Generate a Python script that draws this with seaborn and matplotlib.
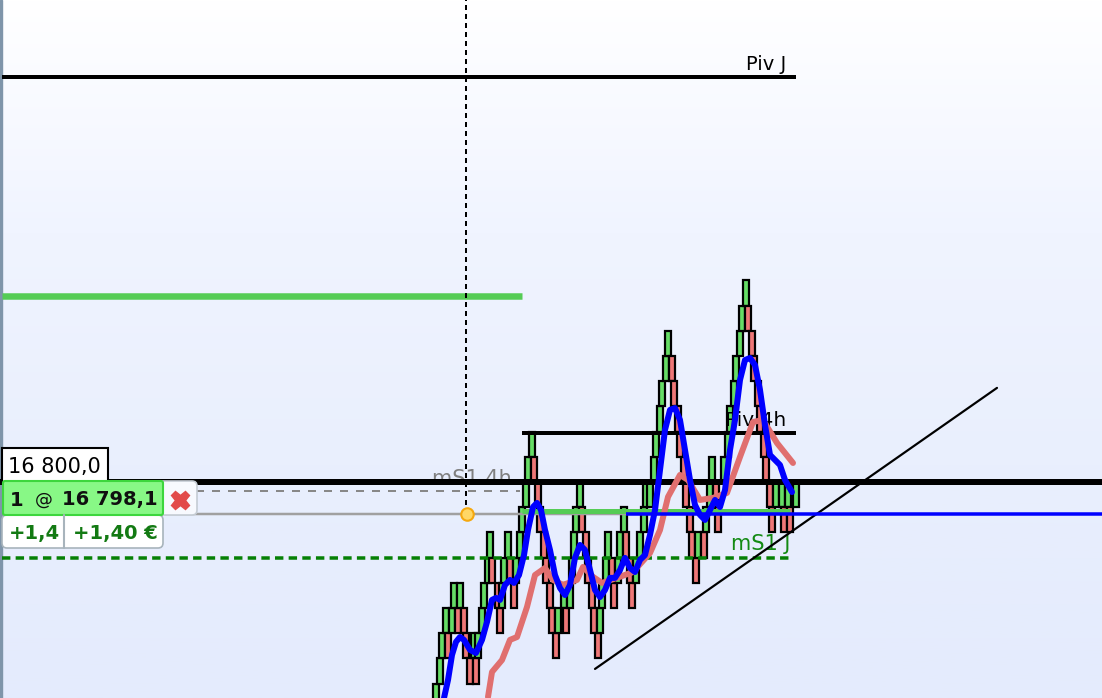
import numpy as np
import pandas as pd
import matplotlib
matplotlib.use("Agg")
import matplotlib.pyplot as plt
import seaborn as sns
from matplotlib.patches import FancyBboxPatch, Rectangle

# -------------------------
# Data: range bars (slot, top price, up/down)
# -------------------------
BOX = 1.5
bar_slot = [218, 220, 221, 223, 224, 226, 227, 229, 230, 232, 233, 235, 237, 238, 239, 241, 242, 244, 245, 246,
            249, 250, 251, 252, 254, 255, 257, 258, 260, 261, 263, 264, 266, 267, 269, 270, 272, 273, 275, 276,
            278, 279, 282, 283, 285, 286, 287, 288, 290, 291, 293, 294, 296, 297, 299, 300, 301, 303, 304, 306,
            307, 309, 310, 312, 313, 315, 316, 318, 320, 322, 323, 325, 327, 328, 330, 331, 333, 334, 336, 337, 339,
            340, 342, 343, 345, 346, 348, 349, 352, 353, 355, 356, 358, 359, 362, 364, 365, 367, 368, 370, 371,
            373, 374, 376, 377, 379, 380, 382, 383, 385, 386, 388, 391, 392, 394, 395, 398]
bar_top = [16788, 16789.5, 16791, 16792.5, 16791, 16792.5, 16794, 16792.5, 16794, 16792.5, 16791, 16789.5, 16791, 16789.5, 16791, 16792.5, 16794, 16795.5, 16797, 16795.5,
           16794, 16792.5, 16794, 16795.5, 16797, 16795.5, 16794, 16795.5, 16797, 16798.5, 16800, 16801.5, 16803, 16801.5, 16800, 16798.5, 16797, 16795.5, 16794, 16792.5,
           16791, 16792.5, 16794, 16792.5, 16794, 16795.5, 16797, 16798.5, 16800, 16798.5, 16797, 16795.5, 16794, 16792.5, 16791, 16792.5, 16794, 16795.5, 16797, 16795.5,
           16794, 16795.5, 16797, 16798.5, 16797, 16795.5, 16794, 16795.5, 16797, 16798.5, 16800, 16800, 16801.5, 16803, 16804.5, 16806, 16807.5, 16809, 16807.5, 16806, 16804.5,
           16803, 16801.5, 16800, 16798.5, 16797, 16795.5, 16797, 16797, 16798.5, 16800, 16801.5, 16800, 16798.5, 16801.5, 16803, 16804.5, 16806, 16807.5, 16809, 16810.5,
           16812, 16810.5, 16809, 16807.5, 16806, 16804.5, 16803, 16801.5, 16800, 16798.5, 16800, 16800, 16798.5, 16800, 16798.5, 16800]
bar_up = [1, 1, 1, 1, 0, 1, 1, 0, 1, 0, 0, 0, 1, 0, 1, 1, 1, 1, 1, 0,
          0, 0, 1, 1, 1, 0, 0, 1, 1, 1, 1, 1, 1, 0, 0, 0, 0, 0, 0, 0,
          0, 1, 1, 0, 1, 1, 1, 1, 1, 0, 0, 0, 0, 0, 0, 1, 1, 1, 1, 0,
          0, 1, 1, 1, 0, 0, 0, 1, 1, 1, 1, 1, 1, 1, 1, 1, 1, 1, 0, 0, 0,
          0, 0, 0, 0, 0, 0, 1, 0, 1, 1, 1, 0, 0, 1, 1, 1, 1, 1, 1, 1,
          1, 0, 0, 0, 0, 0, 0, 0, 0, 0, 1, 1, 0, 1, 0, 1]

# moving averages
fast_slot = [222, 224, 226, 228, 230, 232, 235, 238, 241, 243.5, 246, 248, 250, 252.5, 255, 257, 259.5, 262, 264, 266.5,
             268.5, 270.5, 272.5, 275, 277.5, 280, 282.5, 285, 287.5, 290, 292.5, 295, 297.5, 300, 302.5, 305, 307.5, 310, 312.5, 315,
             317.5, 320, 322.5, 325, 327.5, 330, 332.5, 335, 337.5, 340, 342.5, 345, 347.5, 350, 352.5, 355, 357.5, 360, 362.5, 365,
             367.5, 370, 372.5, 375, 377.5, 380, 382.5, 385, 387.5, 390, 392.5, 396]
fast_ma = [16787.14, 16788.21, 16789.70, 16790.48, 16790.77, 16790.60, 16790.00, 16789.82, 16790.60, 16791.67, 16792.98, 16793.10, 16792.98, 16793.87, 16794.17, 16793.99, 16794.46, 16795.65, 16797.14, 16798.51,
           16798.75, 16798.33, 16797.14, 16795.95, 16794.46, 16793.69, 16793.27, 16793.87, 16795.48, 16796.25, 16795.95, 16794.76, 16793.57, 16793.15, 16793.57, 16794.29, 16794.29, 16794.76, 16795.48, 16794.88,
           16794.64, 16795.36, 16795.65, 16796.85, 16798.33, 16800.71, 16803.10, 16804.29, 16804.40, 16803.69, 16801.90, 16800.12, 16798.63, 16798.04, 16797.74, 16798.33, 16798.93, 16798.51, 16799.52, 16801.90,
           16803.69, 16806.07, 16807.26, 16807.38, 16806.96, 16805.48, 16803.39, 16801.61, 16801.31, 16801.01, 16800.12, 16799.40]
slow_slot = [244, 246, 251, 255, 258.5, 263.5, 267.5, 272.5, 276.5, 281.5, 288.5, 291.5, 296.5, 301, 308.5, 316.5, 325, 330, 334, 340, 344, 350, 356.5, 363.5, 370, 376.5, 381.5, 388.5, 396.5]
slow_ma = [16787.20, 16788.69, 16789.40, 16790.60, 16790.77, 16792.56, 16794.46, 16794.88, 16794.17, 16793.87, 16794.17, 16794.94, 16794.35, 16793.99, 16794.29, 16794.64, 16795.77, 16797.14, 16799.11, 16800.42, 16800.12, 16798.93, 16799.05, 16799.35, 16801.49, 16803.57, 16803.69, 16802.32, 16801.13]

# horizontal levels
piv_j = 16824.1
piv_4h = 16802.9
round_level = 16800.0
ms1_4h = 16798.3
ms1_j = 16795.5
green_high = 16811.07
entry_price = 16798.1
stop_price = 16799.46

trend_slot = [297.5, 498.5]
trend_price = [16788.87, 16805.6]

# -------------------------
# Figure
# -------------------------
sns.set_theme(style="white")
plt.rcParams["font.family"] = ["DejaVu Sans"]

fig = plt.figure(figsize=(11.02, 6.98), dpi=100)
ax = fig.add_axes([0, 0, 1, 1])
ax.set_xlim(0, 551)
ax.set_ylim(16787.14, 16828.69)
ax.axis("off")

# white to pale blue background
grad = np.linspace(0, 1, 256).reshape(-1, 1)
cmap = matplotlib.colors.LinearSegmentedColormap.from_list("bg", ["#ffffff", "#f0f4ff", "#e9effd", "#e4ebfd"])
ax.imshow(grad, extent=[0, 551, 16787.14, 16828.69], aspect="auto", cmap=cmap, zorder=0)
ax.add_patch(Rectangle((0, 0), 0.002, 1, transform=ax.transAxes, color="#7f95aa", zorder=1))

bars = pd.DataFrame({"slot": bar_slot, "top": bar_top, "up": bar_up})
for i, row in bars.iterrows():
    ax.bar(row["slot"], BOX, bottom=row["top"] - BOX, width=2.8,
           color="#66dd66" if row["up"] else "#ee7777",
           edgecolor="black", linewidth=1.6, zorder=2 + i * 0.001)

# labels sit over the bars, under the averages
ax.text(393, piv_j + 0.2, "Piv J", fontsize=14, color="black", ha="right", va="bottom", zorder=4)
ax.text(393, piv_4h + 0.2, "Piv 4h", fontsize=14.5, color="black", ha="right", va="bottom", zorder=4)
ax.text(256, 16799.6, "mS1 4h", fontsize=15, color="#808080", ha="right", va="bottom", zorder=4)
ax.text(395, ms1_j + 0.2, "mS1 J", fontsize=15, color="#138a13", ha="right", va="bottom", zorder=4)

px = 0.72  # one pixel in points
ax.plot([1, 398], [piv_j, piv_j], color="black", lw=4 * px, solid_capstyle="butt", zorder=5)
ax.plot([261, 398], [piv_4h, piv_4h], color="black", lw=4 * px, solid_capstyle="butt", zorder=5)
ax.plot([1, 261], [green_high, green_high], color="#55cc55", lw=6.5 * px, solid_capstyle="butt", zorder=5)
ax.plot([81, 313], [entry_price, entry_price], color="#a0a0a0", lw=2.5 * px, zorder=5)
ax.plot([261, 395], [ms1_4h, ms1_4h], color="#55cc55", lw=5 * px, solid_capstyle="butt", zorder=5)
ax.plot([1, 396], [ms1_j, ms1_j], color="#058005", lw=3.5 * px, ls=(0, (2.4, 1.5)), zorder=5)
ax.plot([98, 260], [stop_price, stop_price], color="#888888", lw=2 * px, ls=(0, (4, 4)), zorder=5)
ax.plot([233, 233], [16798.6, 16828.69], color="black", lw=2 * px, ls=(0, (2.5, 2)), zorder=5)
ax.plot([0, 551], [round_level, round_level], color="black", lw=6 * px, solid_capstyle="butt", zorder=6)

sns.lineplot(x=trend_slot, y=trend_price, color="black", lw=2.2 * px, ax=ax, zorder=6, errorbar=None)
sns.lineplot(x=slow_slot, y=slow_ma, sort=False, estimator=None, color="#e06f6f", lw=6 * px, ax=ax, zorder=7)
sns.lineplot(x=fast_slot, y=fast_ma, sort=False, estimator=None, color="#0000ff", lw=6 * px, ax=ax, zorder=8)
ax.plot([313, 551], [entry_price, entry_price], color="#0000ff", lw=3.5 * px, solid_capstyle="butt", zorder=9)
ax.plot([233.5], [entry_price], "o", ms=9, mfc="#ffd766", mec="#f5a80f", mew=1.5, zorder=10)

# -------------------------
# Order ticket drawn in a pixel overlay
# -------------------------
ui = fig.add_axes([0, 0, 1, 1])
ui.set_xlim(0, 1102)
ui.set_ylim(698, 0)
ui.axis("off")
ui.patch.set_alpha(0)

ui.add_patch(Rectangle((2, 448), 106, 34, fc="white", ec="black", lw=1.5))
ui.text(54, 467, "16 800,0", fontsize=15, color="black", ha="center", va="center")


def rbox(x, y, w, h, fc, ec, r=5, lw=1.2):
    ui.add_patch(FancyBboxPatch((x + r, y + r), w - 2 * r, h - 2 * r,
                                boxstyle="round,pad=%d,rounding_size=%d" % (r, r),
                                fc=fc, ec=ec, lw=lw))


rbox(150, 481, 47, 34, "#f7f9fe", "#c5ccd4")
rbox(2, 515, 161, 33, "white", "#a8b4bc")
ui.plot([64, 64], [515, 548], color="#a8b4bc", lw=1.5)
rbox(3, 481, 160, 34, "#88f886", "#3dd63d", r=2, lw=1.5)
ui.plot([180], [500], marker="X", ms=13, color="#e24a4a", mec="#e24a4a")
ui.text(10, 500, "1", fontsize=14, fontweight="bold", color="#101010", ha="left", va="center")
ui.text(44, 500, "@", fontsize=13, color="#101010", ha="center", va="center")
ui.text(158, 500, "16 798,1", fontsize=14, fontweight="bold", color="#101010", ha="right", va="center")
ui.text(9, 534, "+1,4", fontsize=14, fontweight="bold", color="#137a13", ha="left", va="center")
ui.text(158, 534, "+1,40 €", fontsize=14, fontweight="bold", color="#137a13", ha="right", va="center")

fig.savefig("out.png", dpi=100)
